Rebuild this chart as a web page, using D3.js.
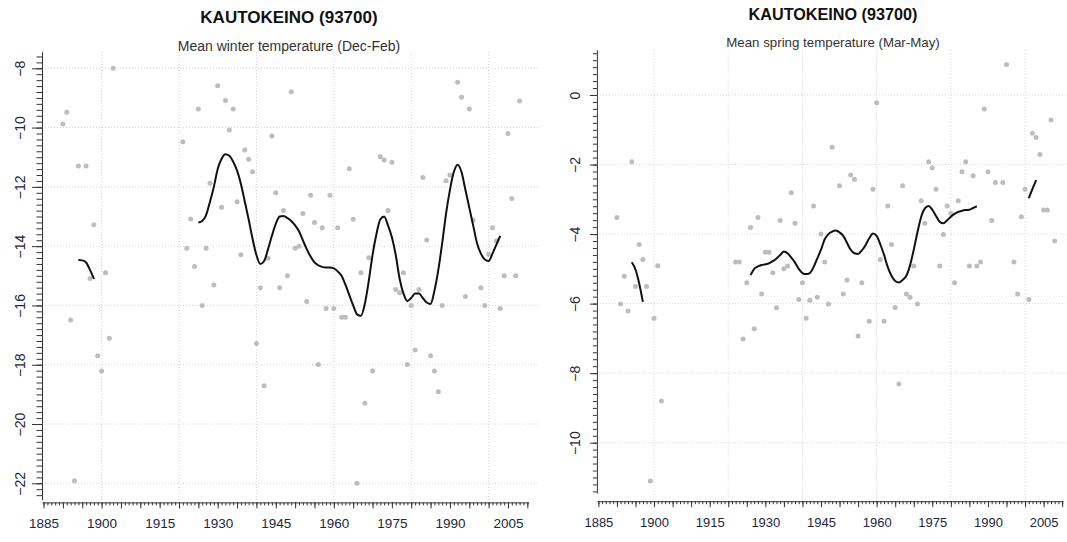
<!DOCTYPE html>
<html>
<head>
<meta charset="utf-8">
<script src="https://cdn.jsdelivr.net/npm/d3@7"></script>
<style>
  body { margin: 0; background: #fff; }
  text { font-family: "Liberation Sans", Arial, sans-serif; }
</style>
</head>
<body>
<svg id="chart" width="1067" height="542"></svg>
<script>
// station + panel titles
var stationTitle = "KAUTOKEINO (93700)";
var winterSubtitle = "Mean winter temperature (Dec-Feb)";
var springSubtitle = "Mean spring temperature (Mar-May)";

// axis labels
var xLabelYears = [1885, 1900, 1915, 1930, 1945, 1960, 1975, 1990, 2005];
var gridYears = [1900, 1920, 1940, 1960, 1980, 2000];
var winterYTicks = [-8, -10, -12, -14, -16, -18, -20, -22];
var springYTicks = [0, -2, -4, -6, -8, -10];

// winter (Dec-Feb) yearly means
var winterYears = [1890, 1891, 1892, 1893, 1894, 1896, 1897, 1898, 1899, 1900, 1901, 1902, 1903,
  1921, 1922, 1923, 1924, 1925, 1926, 1927, 1928, 1929, 1930, 1931, 1932, 1933, 1934, 1935, 1936,
  1937, 1938, 1939, 1940, 1941, 1942, 1943, 1944, 1945, 1946, 1947, 1948, 1949, 1950, 1951, 1952,
  1953, 1954, 1955, 1956, 1957, 1958, 1959, 1960, 1961, 1962, 1963, 1964, 1965, 1966, 1967, 1968,
  1969, 1970, 1972, 1973, 1974, 1975, 1976, 1977, 1978, 1979, 1980, 1981, 1982, 1983, 1984, 1985,
  1986, 1987, 1988, 1989, 1990, 1992, 1993, 1994, 1995, 1996, 1998, 1999, 2000, 2001, 2002, 2003,
  2004, 2005, 2006, 2007, 2008];
var winterTemps = [-9.88, -9.48, -16.49, -21.91, -11.3, -11.3, -15.09, -13.28, -17.7, -18.21, -14.9, -17.11, -8.0,
  -10.48, -14.07, -13.08, -14.69, -9.37, -16.0, -14.07, -11.88, -15.31, -8.59, -12.69, -9.09, -10.08, -9.37, -12.5, -14.29,
  -10.76, -11.07, -11.49, -17.28, -15.4, -18.71, -14.41, -10.28, -12.2, -15.4, -12.8, -15.0, -8.79, -14.07, -14.0, -12.9,
  -15.87, -12.28, -13.2, -17.99, -13.38, -16.1, -12.28, -16.1, -13.38, -16.4, -16.4, -11.39, -13.09, -22.0, -14.9, -19.3,
  -14.39, -18.21, -10.98, -11.09, -12.8, -11.17, -15.46, -15.57, -14.9, -17.99, -16.0, -17.5, -15.46, -11.68, -13.79, -17.7,
  -18.21, -18.91, -16.0, -11.79, -11.6, -8.47, -8.98, -15.7, -9.37, -13.13, -15.4, -16.0, -14.27, -13.38, -13.82, -16.1,
  -15.0, -10.2, -12.39, -15.0, -9.1];

// winter smoothed curve (two pieces)
var winterSmoothEarlyStart = 1894;
var winterSmoothEarly = [-14.47, -14.48, -14.55, -14.8, -15.1];
var winterSmoothMainStart = 1925;
var winterSmoothMain = [-13.2, -13.15, -12.95, -12.5, -12.0, -11.4, -11.05, -10.9, -10.95, -11.15,
  -11.45, -11.9, -12.5, -13.1, -13.75, -14.3, -14.6, -14.5, -14.1, -13.65,
  -13.25, -13.0, -12.98, -13.05, -13.15, -13.3, -13.5, -13.8, -14.1, -14.35,
  -14.55, -14.65, -14.7, -14.72, -14.72, -14.75, -14.85, -15.0, -15.3, -15.65,
  -16.0, -16.3, -16.35, -15.95, -15.2, -14.3, -13.6, -13.1, -13.0, -13.3,
  -13.7, -14.3, -15.1, -15.6, -15.85, -15.75, -15.6, -15.6, -15.75, -15.9,
  -15.95, -15.5, -14.8, -13.9, -12.9, -12.1, -11.5, -11.25, -11.5, -12.1,
  -12.7, -13.3, -13.9, -14.25, -14.45, -14.5, -14.25, -13.95, -13.65];

// spring (Mar-May) yearly means
var springYears = [1890, 1891, 1892, 1893, 1894, 1895, 1896, 1897, 1898, 1899, 1900, 1901, 1902,
  1922, 1923, 1924, 1925, 1926, 1927, 1928, 1929, 1930, 1931, 1932, 1933, 1934, 1935, 1936, 1937,
  1938, 1939, 1940, 1941, 1942, 1943, 1944, 1945, 1946, 1947, 1948, 1950, 1951, 1952, 1953, 1954,
  1955, 1956, 1958, 1959, 1960, 1961, 1962, 1963, 1964, 1965, 1966, 1967, 1968, 1969, 1970, 1971,
  1972, 1973, 1974, 1975, 1976, 1977, 1978, 1979, 1980, 1981, 1982, 1983, 1984, 1985, 1986, 1987,
  1988, 1989, 1990, 1991, 1992, 1994, 1995, 1997, 1998, 1999, 2000, 2001, 2002, 2003, 2004, 2005,
  2006, 2007, 2008];
var springTemps = [-3.52, -6.01, -5.21, -6.21, -1.92, -5.51, -4.3, -4.73, -5.51, -11.1, -6.42, -4.91, -8.8,
  -4.8, -4.8, -7.02, -5.4, -3.81, -6.72, -3.52, -5.72, -4.52, -4.52, -5.11, -6.12, -3.61, -5.0, -4.92, -2.81,
  -3.69, -5.88, -5.4, -6.42, -5.9, -3.19, -5.82, -4.0, -4.8, -6.01, -1.5, -2.61, -5.72, -5.32, -2.3, -2.42,
  -6.93, -5.4, -6.51, -2.71, -0.22, -4.73, -6.51, -3.19, -4.3, -6.11, -8.31, -2.61, -5.72, -5.82, -4.92, -6.01,
  -3.04, -3.69, -1.92, -2.1, -2.71, -4.92, -4.01, -3.19, -3.4, -5.4, -3.04, -2.21, -1.92, -4.92, -2.32, -4.92,
  -4.8, -0.4, -2.21, -3.61, -2.52, -2.52, 0.88, -4.8, -5.72, -3.5, -2.71, -5.88, -1.1, -1.22, -1.71, -3.31,
  -3.31, -0.72, -4.2];

// spring smoothed curve (three pieces)
var springSmoothEarlyStart = 1894;
var springSmoothEarly = [-4.81, -5.02, -5.42, -5.95];
var springSmoothMainStart = 1926;
var springSmoothMain = [-5.18, -5.0, -4.93, -4.89, -4.87, -4.84, -4.78, -4.7, -4.6, -4.5,
  -4.55, -4.68, -4.82, -5.0, -5.12, -5.15, -5.12, -4.95, -4.7, -4.45,
  -4.15, -4.0, -3.93, -3.9, -3.95, -4.05, -4.25, -4.45, -4.55, -4.57,
  -4.47, -4.32, -4.12, -3.98, -4.05, -4.3, -4.6, -4.95, -5.2, -5.35,
  -5.39, -5.32, -5.2, -4.9, -4.45, -3.95, -3.5, -3.26, -3.19, -3.3,
  -3.48, -3.65, -3.69, -3.6, -3.5, -3.42, -3.36, -3.33, -3.31, -3.3,
  -3.25, -3.2];
var springSmoothLateStart = 2001;
var springSmoothLate = [-2.97, -2.7, -2.45];

function pieces(list) {
  return list.map(function(p) {
    return p[1].map(function(v, i) { return {year: p[0] + i, value: v}; });
  });
}

var panels = [
  {
    years: winterYears, temps: winterTemps,
    smooth: pieces([[winterSmoothEarlyStart, winterSmoothEarly], [winterSmoothMainStart, winterSmoothMain]]),
    subtitle: winterSubtitle, yTicks: winterYTicks,
    x: d3.scaleLinear().domain([1884.6, 2010.3]).range([42, 528.5]),
    y: d3.scaleLinear().domain([-7.44, -22.55]).range([51.7, 499.6]),
    axisY: 502.4, gridTop: 52, gridRight: 540,
    titleX: 289, titleY: 22.6, titleSize: 17, subY: 51.3, subSize: 14,
    xFont: 13.5, yFont: 14, yLabelOff: -17.5, yMajorLen: 10, yMinorLen: 5.5
  },
  {
    years: springYears, temps: springTemps,
    smooth: pieces([[springSmoothEarlyStart, springSmoothEarly], [springSmoothMainStart, springSmoothMain],
      [springSmoothLateStart, springSmoothLate]]),
    subtitle: springSubtitle, yTicks: springYTicks,
    x: d3.scaleLinear().domain([1884.6, 2010.2]).range([596.9, 1062.9]),
    y: d3.scaleLinear().domain([1.3, -11.45]).range([49.8, 493.1]),
    axisY: 501.2, gridTop: 49.7, gridRight: 1067,
    titleX: 833, titleY: 19.5, titleSize: 16.2, subY: 47.4, subSize: 13.3,
    xFont: 13, yFont: 14, yLabelOff: -16.7, yMajorLen: 7, yMinorLen: 4
  }
];

var svg = d3.select("#chart");

panels.forEach(function(p) {
  var g = svg.append("g");
  var x0 = p.x.range()[0];
  var yd = p.y.domain();

  // dotted grid
  g.selectAll(".hgrid").data(p.yTicks).enter().append("line")
      .attr("x1", x0).attr("x2", p.gridRight)
      .attr("y1", function(d) { return p.y(d); })
      .attr("y2", function(d) { return p.y(d); })
      .attr("stroke", "#d2d2d2").attr("stroke-dasharray", "1,2");
  g.selectAll(".vgrid").data(gridYears).enter().append("line")
      .attr("x1", function(d) { return p.x(d); })
      .attr("x2", function(d) { return p.x(d); })
      .attr("y1", p.gridTop).attr("y2", p.axisY)
      .attr("stroke", "#d2d2d2").attr("stroke-dasharray", "1,2");

  // yearly points
  g.selectAll(".pt").data(p.years).enter().append("circle")
      .attr("cx", function(d) { return p.x(d); })
      .attr("cy", function(d, i) { return p.y(p.temps[i]); })
      .attr("r", 2.5)
      .attr("fill", "#bdbdbd");

  // smoothed curve
  var line = d3.line()
      .x(function(d) { return p.x(d.year); })
      .y(function(d) { return p.y(d.value); })
      .curve(d3.curveMonotoneX);
  g.selectAll(".smooth").data(p.smooth).enter().append("path")
      .attr("d", line)
      .attr("fill", "none").attr("stroke", "#111").attr("stroke-width", 2);

  // y axis: minor ticks every 0.2, majors every 2
  var lo = Math.min(yd[0], yd[1]), hi = Math.max(yd[0], yd[1]);
  var yMinor = d3.range(Math.ceil(lo * 5), Math.floor(hi * 5) + 1).map(function(v) { return v / 5; });
  g.append("g")
      .attr("transform", "translate(" + x0 + ",0)")
      .call(d3.axisLeft(p.y).tickValues(yMinor).tickSize(p.yMinorLen).tickSizeOuter(0).tickFormat(""));
  var yMajorAxis = g.append("g")
      .attr("transform", "translate(" + x0 + ",0)")
      .call(d3.axisLeft(p.y).tickValues(p.yTicks).tickSize(p.yMajorLen).tickSizeOuter(0));
  yMajorAxis.select(".domain").remove();
  yMajorAxis.selectAll("text")
      .attr("x", null).attr("dy", null)
      .attr("transform", "translate(" + p.yLabelOff + ",0) rotate(-90)")
      .attr("text-anchor", "middle")
      .style("font-size", p.yFont + "px");

  // x axis: yearly minor ticks, 5-year ticks, labels every 15 years
  var xMinor = d3.range(1885, 2011);
  var x5 = d3.range(1885, 2011, 5);
  g.append("g")
      .attr("transform", "translate(0," + p.axisY + ")")
      .call(d3.axisBottom(p.x).tickValues(xMinor).tickSize(3).tickSizeOuter(0).tickFormat(""));
  var xMajorAxis = g.append("g")
      .attr("transform", "translate(0," + p.axisY + ")")
      .call(d3.axisBottom(p.x).tickValues(x5).tickSize(6).tickSizeOuter(0)
        .tickFormat(function(d) { return xLabelYears.indexOf(d) >= 0 ? d : ""; }));
  xMajorAxis.select(".domain").remove();
  xMajorAxis.selectAll("text")
      .attr("y", p.axisY > 502 ? 25.4 : 26.3).attr("dy", null)
      .style("font-size", p.xFont + "px");

  g.selectAll(".domain, .tick line").attr("stroke", "#333");
  g.selectAll(".tick text").attr("fill", "#23263a");

  // titles
  g.append("text")
      .attr("x", p.titleX).attr("y", p.titleY)
      .attr("text-anchor", "middle")
      .style("font-size", p.titleSize + "px").style("font-weight", "bold")
      .attr("fill", "#111")
      .text(stationTitle);
  g.append("text")
      .attr("x", p.titleX).attr("y", p.subY)
      .attr("text-anchor", "middle")
      .style("font-size", p.subSize + "px")
      .attr("fill", "#333")
      .text(p.subtitle);
});
</script>
</body>
</html>
